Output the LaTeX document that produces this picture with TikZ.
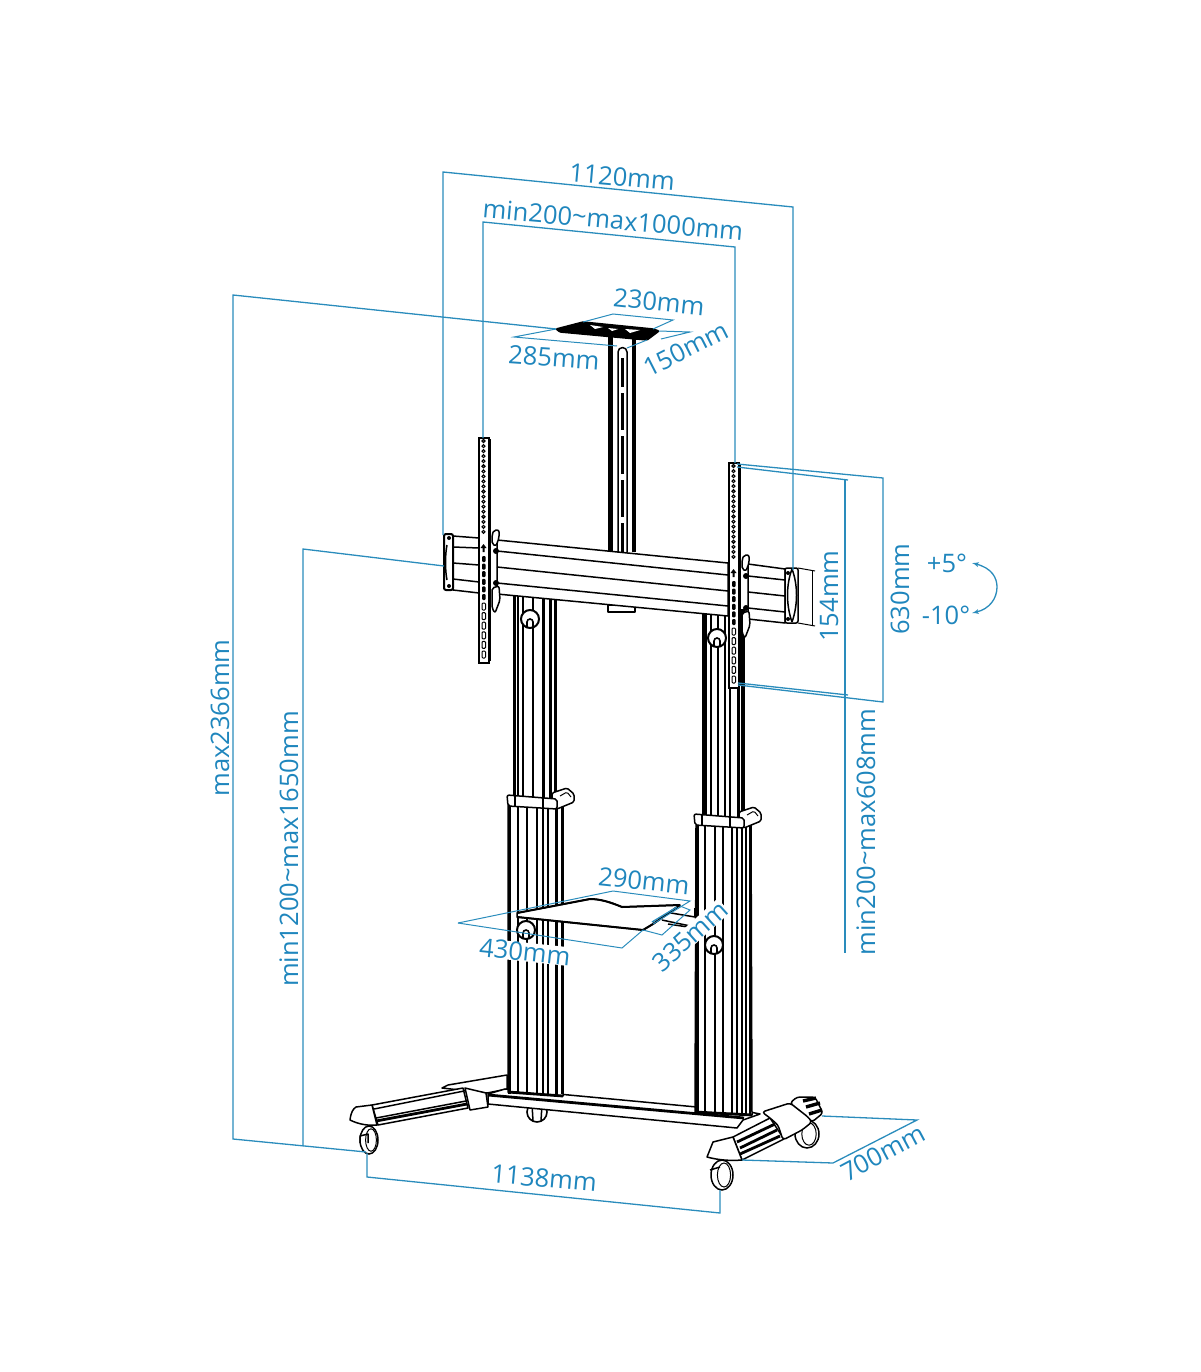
\documentclass[tikz,border=0pt]{standalone}
\usepackage{fontspec}
\setmainfont{Open Sans}
\usetikzlibrary{arrows,positioning}
\definecolor{dimblue}{HTML}{2A8CBC}
\definecolor{dimword}{HTML}{1F86BD}

\newcommand{\knob}[2]{
\draw[fill=white,line width=2pt] (#1,#2) circle (9);
\draw[line width=1.6pt] (#1-3,#2+8) -- (#1-3,#2+3) arc (180:360:3) -- (#1+3,#2+8);
}
\newcommand{\wheel}[4]{
\draw[fill=white,line width=1.5pt] (#1,#2) ellipse (#3 and #4);
\draw[line width=1pt] (#1+2,#2) ellipse (#3*0.6 and #4*0.8);
}
\newcommand{\wallplate}{
\draw[fill=white,line width=1.2pt] (0,0) rectangle (10,225);
\draw[line width=2.4pt] (11,1) -- (11,223);
\foreach \i in {0,...,18} \draw[line width=1.1pt] (4.5,3+\i*5.05) circle (1.5);
\fill (4.5,106) -- (7.5,110) -- (5.5,110) -- (5.5,114) -- (3.5,114) -- (3.5,110) -- (1.5,110) -- cycle;
\foreach \i in {0,...,5} \fill[rounded corners=1pt] (3,118+\i*7.6) rectangle (6.5,124+\i*7.6);
\foreach \i in {0,...,5} \draw[line width=1pt,rounded corners=1pt] (3,165+\i*9.6) rectangle (6.5,172+\i*9.6);
}

\begin{document}
\begin{tikzpicture}[x=1pt,y=-1pt,
ink/.style ={line width=1.5pt,line join=round},
bold/.style ={line width=2.8pt,line join=round},
dimline/.style ={dimblue,line width=1.3pt},
thinline/.style ={dimblue,line width=1pt},
dimtext/.style ={text=dimword,inner sep=0pt,font=\fontsize{25.5}{25.5}\selectfont},
halotext/.style ={dimtext,fill=white}]

\useasboundingbox (0,0) rectangle (1200,1372);

% base, rear parts first
\wheel{807}{1134}{12}{14}
\draw[line width=1.6pt,fill=white] (537,1112) circle (10);
\draw[ink] (532,1104) -- (533,1121) (542,1104) -- (541,1121);
\draw[ink,fill=white] (442,1088) -- (448,1085) -- (507,1075) -- (507,1089) -- (487,1093) -- cycle;
\draw[ink,fill=white] (488,1094) -- (505,1089) -- (750,1112) -- (760,1114) -- (743,1120) -- (737,1128) -- (488,1104) -- cycle;
\draw[bold] (488,1095) -- (744,1118);

% left foot
\wheel{369}{1140}{9}{14}
\draw[ink] (360,1143) -- (360,1136) -- (368,1134) -- (368,1143);
\draw[ink,fill=white] (372,1105) -- (463,1088) -- (468,1108) -- (378,1125) -- cycle;
\draw[ink] (374,1109) -- (464,1091);
\draw[bold] (376,1121) -- (467,1104);
\draw[ink] (376,1118) -- (466,1101);
\draw[ink,fill=white] (350,1120) .. controls (351,1112) and (353,1109) .. (356,1107) -- (372,1105) -- (377,1125) .. controls (368,1126) and (358,1124) .. (350,1120) -- cycle;
\draw[ink,fill=white] (465,1088) -- (486,1093) -- (488,1107) -- (470,1110) -- cycle;

% right foot
\wheel{722}{1175}{11}{15}
\draw[ink] (710,1170) -- (720,1167);
\draw[ink,fill=white] (733,1137) -- (770,1118) -- (784,1139) -- (742,1160) -- cycle;
\foreach \a/\b/\c/\d in {737/1142/775/1124, 740/1148/777/1130, 740/1154/780/1136} \draw[bold] (\a,\b) -- (\c,\d);
\draw[ink,fill=white] (707,1157) -- (713,1142) -- (733,1137) -- (742,1160) .. controls (730,1161) and (718,1160) .. (707,1157) -- cycle;
\draw[ink,fill=white,rounded corners=3pt] (790,1103) -- (797,1097) -- (815,1097) -- (823,1113) -- (812,1122) -- cycle;
\foreach \a/\b/\c/\d in {803/1101/816/1098, 806/1107/820/1103, 809/1114/822/1110} \draw[line width=3.4pt] (\a,\b) -- (\c,\d);
\draw[ink,fill=white,rounded corners=3pt] (762,1112) -- (790,1103) -- (808,1117) -- (812,1122) -- (802,1130) -- (783,1140) -- (778,1125) -- (770,1118) -- cycle;

% lower columns
\draw[ink,fill=white] (508,805) -- (563,805) -- (563,1096) -- (508,1092) -- cycle;
\draw[ink,fill=white] (696,825) -- (751,825) -- (752,1115) -- (695,1112) -- cycle;
\foreach \x/\w in {509/3,518/1.5,527/1.5,537/1.5,543/1.5,548/1.5,556/3,562/2} \draw[line width=\w pt] (\x,800) -- (\x,1094);
\foreach \x/\w in {697/3,705/1.5,715/1.5,723/1.5,732/1.5,737/1.5,742/1.5,746/2.5,750/2} \draw[line width=\w pt] (\x,820) -- (\x,1114);
\draw[bold] (508,1092) -- (563,1096);
\draw[bold] (695,1112) -- (752,1115);

% upper columns
\draw[ink,fill=white] (514,590) rectangle (556,800);
\draw[ink,fill=white] (703,610) rectangle (744,820);
\foreach \x/\w in {515/2,518/1.5,523/1.5,533/1.5,543/3,550/3,555/2.5} \draw[line width=\w pt] (\x,590) -- (\x,798);
\foreach \x/\w in {704/2,706/1.5,711/1.5,718/1.5,725/1.5,730/1.5,738/3,742/3} \draw[line width=\w pt] (\x,610) -- (\x,818);

% collars
\foreach \dx/\dy in {0/0,187/19} {
\begin{scope}[shift={(\dx,\dy)}]
\draw[ink,fill=white,rounded corners=1.5pt] (552,793) -- (567,788) -- (574,794) -- (574,802) -- (557,809) -- (552,806) -- cycle;
\draw[line width=1pt,rounded corners=1.5pt] (560,796) -- (567,792) -- (571,797);
\draw[ink,fill=white,rounded corners=2pt] (507,795) -- (557,799) -- (557,809) -- (508,806) -- cycle;
\draw[ink] (515,796) -- (515,807) (543,798) -- (543,808);
\end{scope}
}

\knob{530}{619}
\knob{717}{638}
\knob{526}{930}
\knob{714}{945}

% shelf
\foreach \a/\b/\c/\d in {665/912/695/917, 662/920/695/927, 668/924/688/927} \draw[ink] (\a,\b) -- (\c,\d);
\draw[ink] (695,908) -- (695,917);
\draw[ink,fill=white] (517,913) -- (590,899) .. controls (600,899) and (610,902) .. (622,907) -- (680,905) -- (653,924) -- (643,930) -- (517,917) -- cycle;
\draw[line width=2pt] (517,913) -- (590,899) .. controls (600,899) and (610,902) .. (622,907) -- (680,905);
\draw[line width=2pt] (517,917) -- (643,930);
\draw[line width=2pt] (680,905) -- (653,924) -- (643,930);
\draw[dimblue,line width=1.4pt] (677,907) -- (652,922);

% top mast
\fill (608,337) rectangle (613,552);
\fill (632,338) rectangle (636,552);
\draw[ink] (618,552) -- (618,352) arc (180:360:4.5) -- (627,552);
\draw[line width=2.8pt] (622.5,358) -- (622.5,552);
\foreach \y in {390,433,477,520} \draw[white,line width=3pt] (622.5,\y-3) -- (622.5,\y+3);

% plate on the mast
\draw[ink,fill=black,rounded corners=1pt] (556,329) -- (583,322) -- (653,329) -- (659,331) -- (647,340) -- (560,332) -- cycle;
\fill[white] (590,325) -- (603,327) -- (595,329) -- cycle;
\fill[white] (608,328) -- (618,329) -- (612,331) -- cycle;
\fill[white] (625,329) -- (640,330) -- (630,333) -- cycle;

% crossbar
\draw[ink,fill=white] (608,605) rectangle (635,612);
\draw[ink,fill=white] (453,536) -- (479,538) -- (479,593) -- (453,590) -- cycle;
\draw[ink,fill=white] (748,564) -- (785,569) -- (785,623) -- (748,619) -- cycle;
\draw[ink,fill=white] (497,540) -- (728,563) -- (728,616) -- (497,594) -- cycle;
\foreach \a/\b/\c/\d in {497/551/728/575, 497/567/728/591, 497/583/728/606, 453/547/479/548, 453/563/479/565, 453/579/479/582, 748/576/785/580, 748/592/785/596, 748/608/785/612} \draw[ink] (\a,\b) -- (\c,\d);
\draw[line width=2pt,fill=white,rounded corners=2pt] (444,534) rectangle (453,590);
\draw[ink] (447,545) .. controls (445,555) and (445,570) .. (447,580);
\fill (449,538) circle (2) (449,586) circle (2);
\draw[ink,fill=white,rounded corners=2pt] (785,568) rectangle (798,623);
\draw[ink] (792,569) .. controls (786,585) and (786,605) .. (792,622);
\draw[ink] (792,569) .. controls (798,585) and (798,605) .. (792,622);
\fill (788,573) circle (2) (788,619) circle (2);

% wall plates and their brackets
\foreach \x/\y in {479/438,729/463} {
\begin{scope}[shift={(\x,\y)}]
\wallplate
\draw[ink,fill=white,rounded corners=2pt] (13,97) -- (15,92) -- (20,92) -- (20,100) -- (17,108) -- (13,106) -- cycle;
\draw[ink,fill=white,rounded corners=2pt] (13,150) -- (20,148) -- (21,162) -- (16,175) -- (13,170) -- cycle;
\fill (17,113) circle (3) (17,145) circle (3);
\end{scope}
}

% blue dimensions
\coordinate (over_a) at (443,172);
\coordinate (over_b) at (793,207);
\coordinate (hole_a) at (483,222);
\coordinate (hole_b) at (735,247);
\coordinate (high_a) at (233,295);
\coordinate (high_b) at (233,1139);
\coordinate (rail_a) at (303,549);
\coordinate (rail_b) at (303,1146);
\coordinate (foot_a) at (367,1177);
\coordinate (foot_b) at (720,1213);
\coordinate (deep_a) at (833,1163);
\coordinate (deep_b) at (917,1120);
\coordinate (plate_a) at (883,478);
\coordinate (plate_b) at (883,702);
\coordinate (slide_a) at (845,479);
\coordinate (slide_b) at (845,953);

\draw[dimline] (443,535) -- (over_a) -- (over_b) -- (793,570);
\draw[dimline] (483,438) -- (hole_a) -- (hole_b) -- (735,463);
\draw[dimline] (556,329) -- (high_a) -- (high_b) -- (366,1152);
\draw[dimline] (444,566) -- (rail_a) -- (rail_b);
\draw[dimline] (367,1153) -- (foot_a) -- (foot_b) -- (720,1190);
\draw[dimline] (742,1160) -- (deep_a) -- (deep_b) -- (822,1116);
\draw[dimline] (737,464) -- (plate_a) -- (plate_b) -- (738,685);
\draw[dimline] (737,467) -- (848,480);
\draw[dimline] (slide_a) -- (slide_b);
\draw[dimline] (738,683) -- (848,695);

% top plate dimensions
\draw[thinline] (556,329) -- (514,337) -- (617,346);
\draw[thinline] (583,322) -- (613,314) -- (673,320) -- (653,329);
\draw[thinline] (659,331) -- (690,332) -- (661,339);
\draw[thinline] (627,348) -- (647,340);

% shelf dimensions
\draw[thinline] (458,923) -- (613,891) -- (690,901) -- (653,924);
\draw[thinline] (458,923) -- (622,948) -- (643,930);
\draw[thinline] (643,930) -- (662,935) -- (690,910) -- (680,906);

% black 154 dimension
\draw[ink,line width=1pt] (798,568) -- (815,571);
\draw[ink,line width=1pt] (812,570) -- (812,626);
\draw[ink,line width=1pt] (798,623) -- (815,626);

% tilt
\draw[dimline,latex'-latex'] (972,563) .. controls (992,568) and (997,578) .. (997,587) .. controls (997,598) and (990,609) .. (972,613);

\node[dimtext,rotate=-5] (lbl_over) at (622,177) {1120mm};
\node[dimtext,rotate=-5] (lbl_hole) at (613,220) {min200\raisebox{.1ex}{\char`~}max1000mm};
\node[dimtext,rotate=90] (lbl_high) at (220,718) {max2366mm};
\node[dimtext,rotate=90] (lbl_rail) at (289,849) {min1200\raisebox{.1ex}{\char`~}max1650mm};
\node[dimtext,rotate=-5] (lbl_foot) at (544,1178) {1138mm};
\node[dimtext,rotate=28] (lbl_deep) at (883,1153) {700mm};
\node[dimtext,rotate=-6] (lbl_mastw) at (659,302) {230mm};
\node[dimtext,rotate=-4] (lbl_mastl) at (554,358) {285mm};
\node[dimtext,rotate=27] (lbl_mastd) at (686,349) {150mm};
\node[dimtext,rotate=-6] (lbl_shelfw) at (644,881) {290mm};
\node[halotext,rotate=-6] (lbl_shelfl) at (525,952) {430mm};
\node[halotext,rotate=42] (lbl_shelfd) at (690,936) {335mm};
\node[dimtext,rotate=90] (lbl_bar) at (829,596) {154mm};
\node[dimtext,rotate=90] (lbl_plate) at (900,589) {630mm};
\node[dimtext,rotate=90] (lbl_slide) at (866,832) {min200\raisebox{.1ex}{\char`~}max608mm};
\node[dimtext] (lbl_plus) at (947,563) {+5°};
\node[dimtext] (lbl_minus) at (946,615) {-10°};

\end{tikzpicture}
\end{document}
